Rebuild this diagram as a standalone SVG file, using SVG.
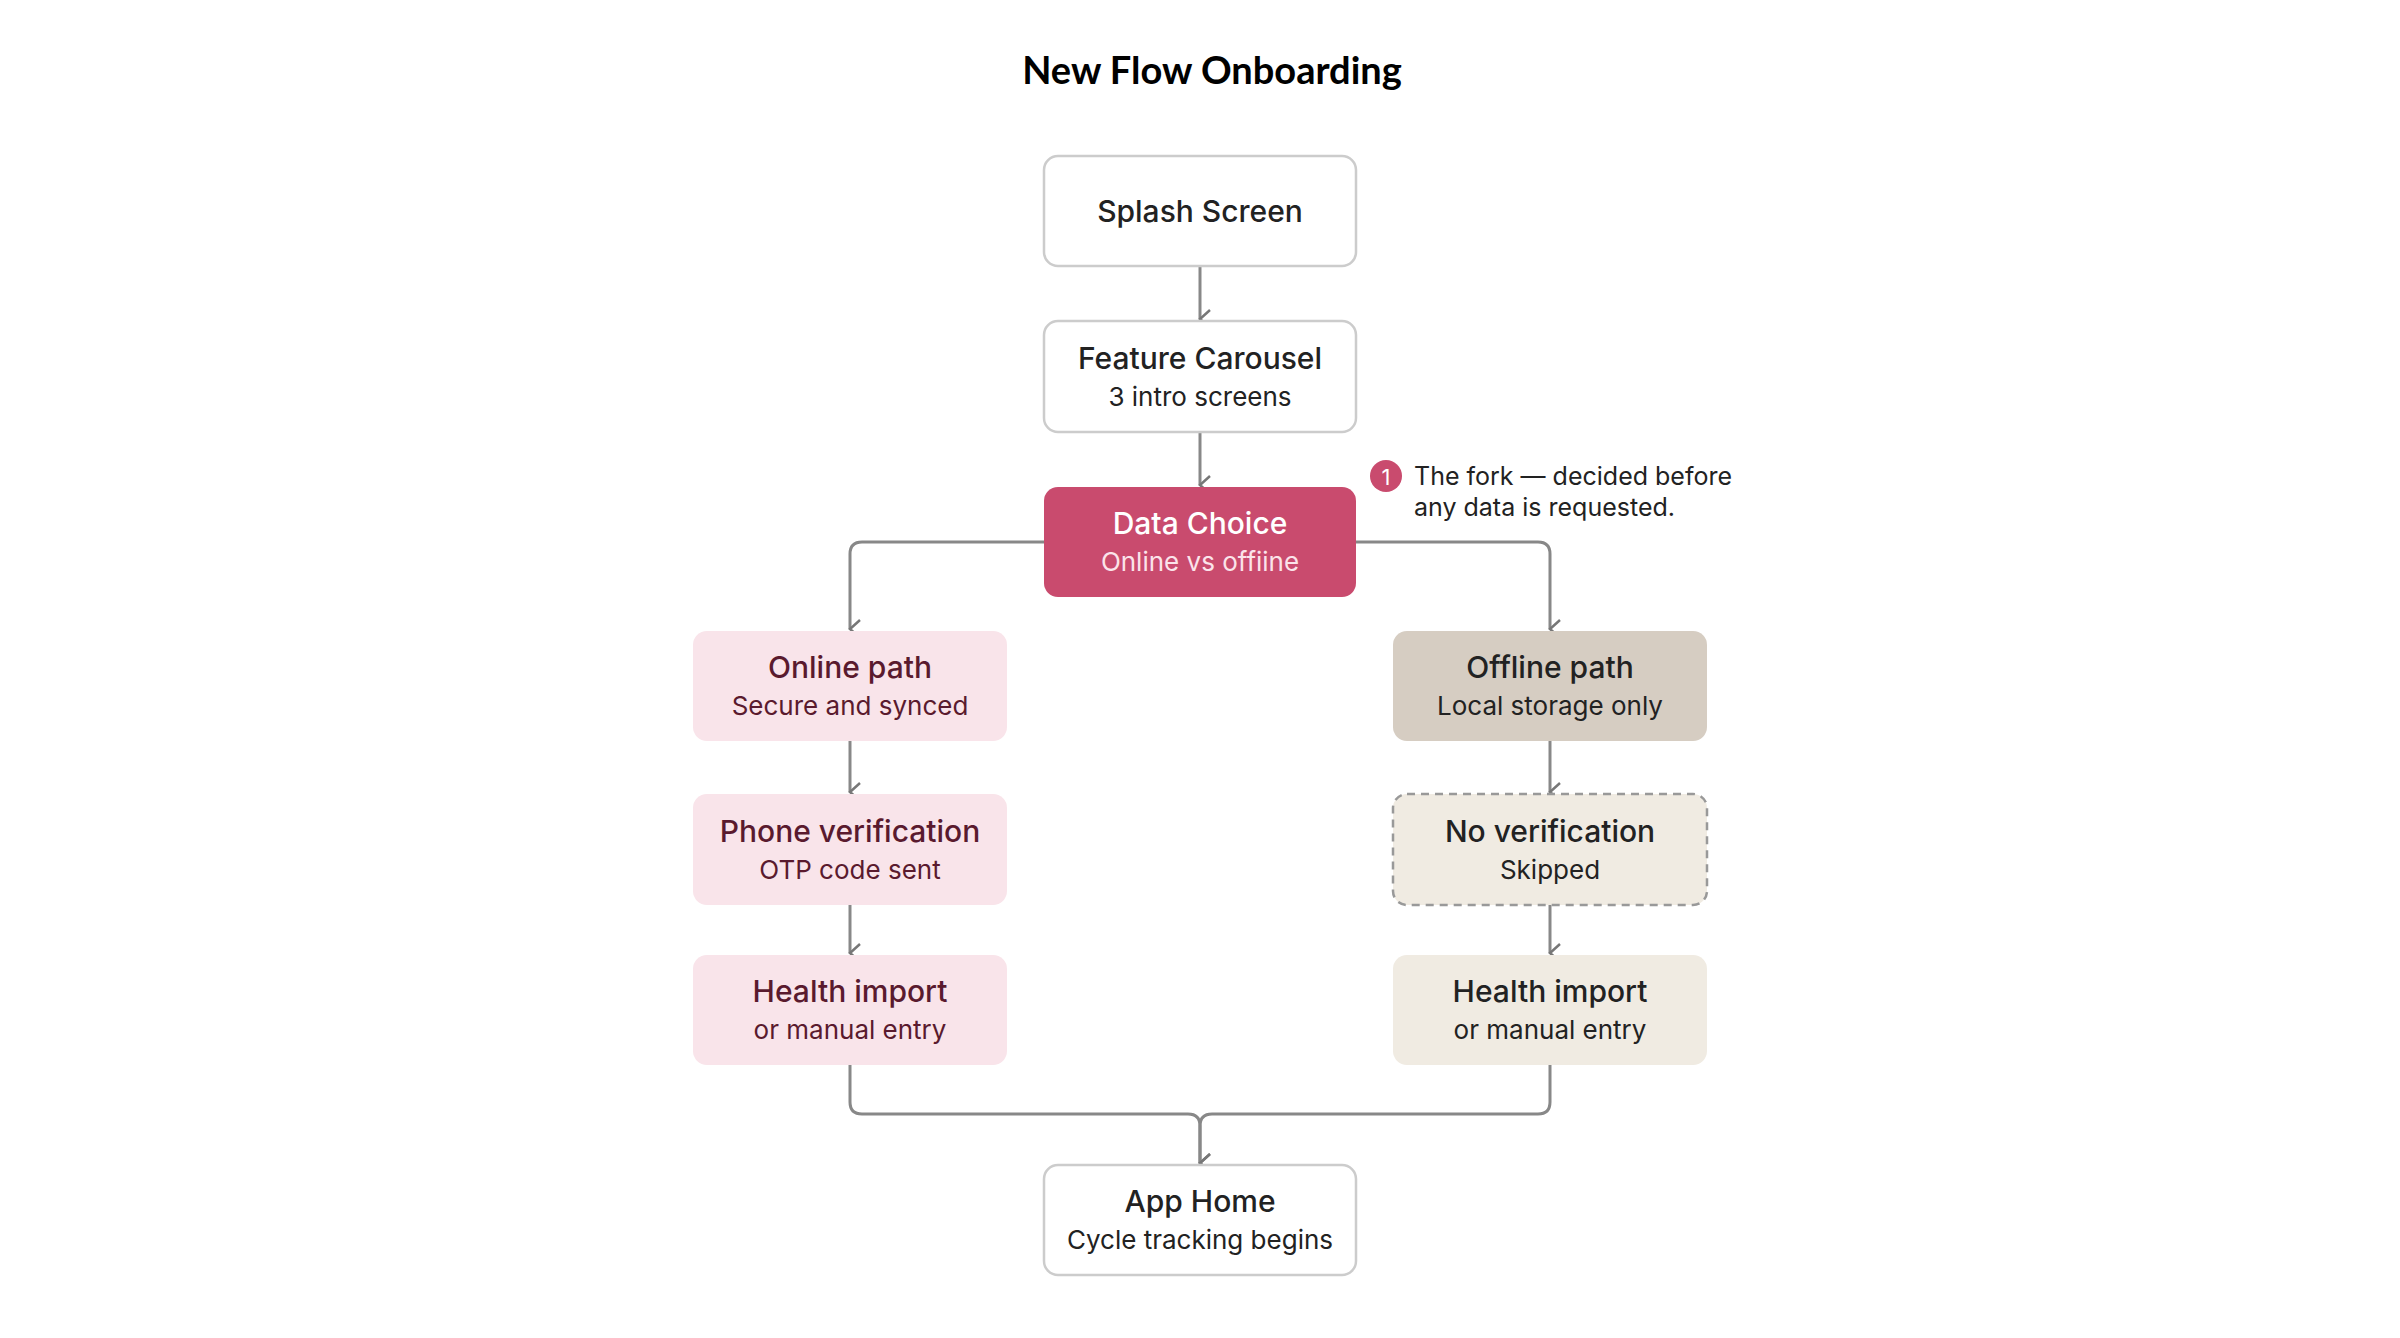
<svg xmlns="http://www.w3.org/2000/svg" width="2400" height="1338" viewBox="0 0 2400 1338">
<defs>
<marker id="ah" viewBox="0 0 20 20" refX="10" refY="18" markerWidth="20" markerHeight="20" markerUnits="userSpaceOnUse" orient="auto-start-reverse">
<path d="M1 8 L10 18 L19 8" fill="none" stroke="#777" stroke-width="2.5"/>
</marker>
<style>
text{font-family:Inter,"Noto Sans",sans-serif;text-anchor:middle}
.t{font-size:30px;font-weight:500}
.s{font-size:26px}
.c{fill:none;stroke:#888;stroke-width:3;marker-end:url(#ah)}
.w{fill:#fff;stroke:#ccc;stroke-width:2.5}
.p{fill:#f9e4ea}
.pt{fill:#5a1a2e}
.g{fill:#d6cdc2}
.b{fill:#f0ebe2}
.dk{fill:#222}
</style>
</defs>
<rect width="2400" height="1338" fill="#fff"/>
<text x="1212" y="84" style="font-family:Lato,sans-serif;font-size:38px;font-weight:700">New Flow Onboarding</text>
<g id="connectors">
<path class="c" d="M1200 266 V319"/>
<path class="c" d="M1200 432 V485"/>
<path class="c" d="M1044 542 H862 Q850 542 850 554 V629"/>
<path class="c" d="M1356 542 H1538 Q1550 542 1550 554 V629"/>
<path class="c" d="M850 741 V792"/>
<path class="c" d="M1550 741 V792"/>
<path class="c" d="M850 905 V953"/>
<path class="c" d="M1550 905 V953"/>
<path class="c" d="M850 1065 V1102 Q850 1114 862 1114 H1188 Q1200 1114 1200 1126 V1163"/>
<path class="c" d="M1550 1065 V1102 Q1550 1114 1538 1114 H1212 Q1200 1114 1200 1126 V1163"/>
</g>
<g id="splash"><rect class="w" x="1044" y="156" width="312" height="110" rx="14"/><text class="t dk" x="1200" y="222">Splash Screen</text></g>
<g id="carousel"><rect class="w" x="1044" y="321" width="312" height="111" rx="14"/><text class="t dk" x="1200" y="369">Feature Carousel</text><text class="s dk" x="1200" y="406">3 intro screens</text></g>
<g id="choice"><rect x="1044" y="487" width="312" height="110" rx="14" fill="#c94b6e"/><text class="t" fill="#fff" x="1200" y="534">Data Choice</text><text class="s" fill="#fbe3ea" x="1200" y="571">Online vs offiine</text></g>
<g id="note"><circle cx="1386" cy="476" r="16" fill="#c94b6e"/><text x="1386" y="485" fill="#fff" style="font-size:22px">1</text>
<text x="1414" y="485" fill="#222" style="font-size:25px;text-anchor:start">The fork — decided before</text><text x="1414" y="516" fill="#222" style="font-size:25px;text-anchor:start">any data is requested.</text></g>
<g id="online"><rect class="p" x="693" y="631" width="314" height="110" rx="14"/><text class="t pt" x="850" y="678">Online path</text><text class="s pt" x="850" y="715">Secure and synced</text></g>
<g id="phone"><rect class="p" x="693" y="794" width="314" height="111" rx="14"/><text class="t pt" x="850" y="842">Phone verification</text><text class="s pt" x="850" y="879">OTP code sent</text></g>
<g id="healthL"><rect class="p" x="693" y="955" width="314" height="110" rx="14"/><text class="t pt" x="850" y="1002">Health import</text><text class="s pt" x="850" y="1039">or manual entry</text></g>
<g id="offline"><rect class="g" x="1393" y="631" width="314" height="110" rx="14"/><text class="t dk" x="1550" y="678">Offline path</text><text class="s dk" x="1550" y="715">Local storage only</text></g>
<g id="noverif"><rect class="b" x="1393" y="794" width="314" height="111" rx="14" stroke="#999" stroke-width="2.5" stroke-dasharray="8 6"/><text class="t dk" x="1550" y="842">No verification</text><text class="s dk" x="1550" y="879">Skipped</text></g>
<g id="healthR"><rect class="b" x="1393" y="955" width="314" height="110" rx="14"/><text class="t dk" x="1550" y="1002">Health import</text><text class="s dk" x="1550" y="1039">or manual entry</text></g>
<g id="home"><rect class="w" x="1044" y="1165" width="312" height="110" rx="14"/><text class="t dk" x="1200" y="1212">App Home</text><text class="s dk" x="1200" y="1249">Cycle tracking begins</text></g>
</svg>
